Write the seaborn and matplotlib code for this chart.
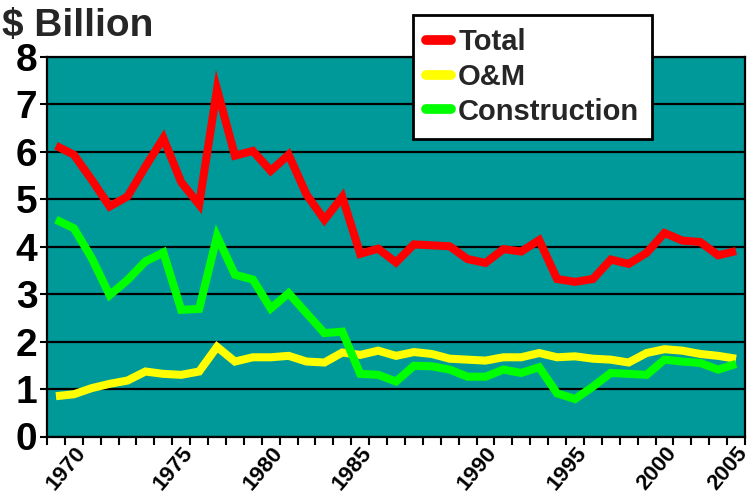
import numpy as np
import pandas as pd
import matplotlib
matplotlib.use("Agg")
import matplotlib.pyplot as plt
from matplotlib.lines import Line2D
import seaborn as sns

# ---- data ----
categories = ["", "1970", "", "", "", "", "", "1975", "", "", "", "", "1980", "", "", "", "", "1985",
              "", "", "", "", "", "", "1990", "", "", "", "", "1995", "", "", "", "", "2000", "", "", "", "2005"]
total = [6.13, 5.94, 5.41, 4.85, 5.06, 5.69, 6.29, 5.36, 4.89, 7.32, 5.92, 6.02, 5.60, 5.94, 5.10,
         4.57, 5.05, 3.85, 3.96, 3.67, 4.05, 4.03, 4.01, 3.74, 3.66, 3.95, 3.90, 4.14, 3.32, 3.26,
         3.32, 3.73, 3.64, 3.87, 4.29, 4.13, 4.10, 3.82, 3.91]
om = [0.85, 0.89, 1.02, 1.11, 1.18, 1.37, 1.32, 1.30, 1.37, 1.89, 1.58, 1.67, 1.67, 1.70, 1.58,
      1.56, 1.77, 1.72, 1.81, 1.70, 1.78, 1.74, 1.64, 1.62, 1.60, 1.67, 1.67, 1.76, 1.67, 1.69,
      1.64, 1.62, 1.56, 1.76, 1.84, 1.81, 1.74, 1.70, 1.64]
construction = [4.57, 4.39, 3.76, 2.98, 3.30, 3.69, 3.88, 2.67, 2.69, 4.22, 3.41, 3.31, 2.70, 3.02, 2.60,
                2.18, 2.21, 1.32, 1.30, 1.16, 1.49, 1.48, 1.41, 1.26, 1.26, 1.41, 1.34, 1.46, 0.91, 0.79,
                1.05, 1.34, 1.32, 1.30, 1.62, 1.58, 1.55, 1.41, 1.53]
series_names = ["Total", "O&M", "Construction"]
series_colors = ["#ff0000", "#ffff00", "#00ff00"]
y_ticks = [0, 1, 2, 3, 4, 5, 6, 7, 8]

sns.set_theme(style="white")
plt.rcParams['font.family'] = ['Liberation Sans', 'DejaVu Sans']
plt.rcParams['font.weight'] = 'bold'

n = len(categories)
idx = np.arange(n)
df = pd.DataFrame({
    "idx": np.tile(idx, 3),
    "value": total + om + construction,
    "series": np.repeat(series_names, n),
})

fig = plt.figure(figsize=(7.51, 5.01), dpi=100)
ax = fig.add_axes([47 / 751, 1 - 436.5 / 501, (745 - 47) / 751, (436.5 - 57) / 501])
ax.set_facecolor("#009999")

sns.lineplot(data=df, x="idx", y="value", hue="series", hue_order=series_names,
             palette=dict(zip(series_names, series_colors)), linewidth=5.8,
             sort=False, legend=False, ax=ax)
for ln in ax.get_lines():
    ln.set_solid_joinstyle("miter")
    ln.set_solid_capstyle("butt")

ax.set_xlim(-0.5, n - 0.5)
ax.set_ylim(y_ticks[0], y_ticks[-1])
ax.set_xlabel("")
ax.set_ylabel("")

ax.set_yticks(y_ticks)
ax.set_yticklabels([str(v) for v in y_ticks])
ax.yaxis.grid(True, color="black", linewidth=1.6)
ax.xaxis.grid(False)
ax.set_axisbelow(True)
for sp in ax.spines.values():
    sp.set_color("black")
    sp.set_linewidth(1.6)
    sp.set_visible(True)

ax.tick_params(axis="y", which="major", left=True, direction="out", length=5, width=1.5,
               color="black", labelsize=28, pad=2, labelcolor="black")

# tick marks at category boundaries, labels at category centres
ax.set_xticks(np.arange(n + 1) - 0.5)
ax.set_xticklabels([""] * (n + 1))
ax.set_xticks(idx, minor=True)
ax.set_xticklabels(categories, minor=True)
ax.tick_params(axis="x", which="major", bottom=True, direction="out", length=6, width=1.5, color="black")
ax.tick_params(axis="x", which="minor", bottom=True, length=0, labelsize=16, pad=4.5,
               labelcolor="black", labelrotation=50)
plt.setp(ax.get_xticklabels(minor=True), ha="right", va="top", rotation_mode="anchor",
         fontweight="bold")
plt.setp(ax.get_yticklabels(), fontweight="bold")

fig.text(2 / 751, 1 - 36 / 501, "$ Billion", fontsize=28, fontweight="bold", ha="left", va="baseline")

handles = [Line2D([0], [0], color=c, lw=7) for c in series_colors]
leg = fig.legend(handles, series_names, loc="upper left", bbox_to_anchor=(413 / 751, 1 - 15 / 501),
                 bbox_transform=fig.transFigure, borderaxespad=0, frameon=True, fancybox=False,
                 shadow=False, handlelength=0.85, handletextpad=0.25, labelspacing=0.23,
                 borderpad=0.45, prop={"weight": "bold", "size": 21})
leg.get_frame().set_edgecolor("black")
leg.get_frame().set_linewidth(2)
leg.get_frame().set_facecolor("white")
leg.get_frame().set_alpha(1)

fig.savefig("out.png", dpi=100)
